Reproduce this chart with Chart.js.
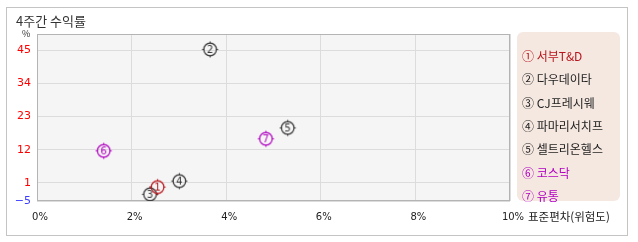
<!DOCTYPE html>
<html>
<head>
<meta charset="utf-8">
<script src="https://cdn.jsdelivr.net/npm/chart.js@4"></script>
<style>
  body { margin: 0; background: #fff; font-family: "Noto Sans CJK KR", sans-serif; }
  #wrap { position: relative; width: 638px; height: 242px; }
  #frame { position: absolute; left: 6px; top: 7px; width: 620px; height: 227px; border: 1px solid #c4c4c4; }
  #title { position: absolute; left: 16px; top: 11px; font-size: 13px; color: #333; }
  #unit { position: absolute; left: 22px; top: 27px; font-size: 9px; color: #333; }
  #chart { position: absolute; left: 0; top: 0; }
  #legend { position: absolute; left: 517px; top: 32px; width: 103px; height: 169px; background: #f5e8e1; border-radius: 6px; }
  #legend div { position: absolute; left: 5px; font-size: 12px; line-height: 14px; white-space: nowrap; }
</style>
</head>
<body>
<div id="wrap">
  <div id="frame"></div>
  <canvas id="chart" width="638" height="242"></canvas>
  <div id="title">4주간 수익률</div>
  <div id="unit">%</div>
  <div id="legend"></div>
</div>
<script>
// Data
const names = ['서부T&D', '다우데이타', 'CJ프레시웨', '파마리서치프', '셀트리온헬스', '코스닥', '유통'];
const marks = ['①', '②', '③', '④', '⑤', '⑥', '⑦'];
const riskValues = [2.55, 3.66, 2.39, 3.01, 5.30, 1.41, 4.84];
const returnValues = [-0.4, 45.2, -2.8, 1.6, 19.2, 11.6, 15.6];
const colors = ['#b8141c', '#333333', '#333333', '#333333', '#333333', '#b000c0', '#b000c0'];
const yTicks = [45, 34, 23, 12, 1, -5];
const xTicks = [0, 2, 4, 6, 8, 10];

// Build legend
const legend = document.getElementById('legend');
names.forEach((name, i) => {
  const d = document.createElement('div');
  d.textContent = marks[i] + ' ' + name;
  d.style.top = (17 + i * 23.3) + 'px';
  d.style.color = colors[i] === '#333333' ? '#222' : colors[i];
  legend.appendChild(d);
});

// Circled number marker
const makeMarker = (num, color) => {
  const c = document.createElement('canvas');
  c.width = 21;
  c.height = 21;
  const g = c.getContext('2d');
  g.strokeStyle = color;
  g.fillStyle = color;
  g.lineWidth = 1.2;
  g.beginPath();
  g.arc(10.5, 10.5, 6.3, 0, Math.PI * 2);
  g.stroke();
  g.lineWidth = 1;
  g.beginPath();
  g.moveTo(10.5, 2.5); g.lineTo(10.5, 4.5);
  g.moveTo(10.5, 16.5); g.lineTo(10.5, 18.5);
  g.moveTo(2.5, 10.5); g.lineTo(4.5, 10.5);
  g.moveTo(16.5, 10.5); g.lineTo(18.5, 10.5);
  g.stroke();
  g.font = '10px "DejaVu Sans", sans-serif';
  g.textAlign = 'center';
  g.textBaseline = 'middle';
  g.fillText(String(num), 10.5, 11);
  return c;
};

const datasets = names.map((name, i) => ({
  label: name,
  data: [{ x: riskValues[i], y: returnValues[i] }],
  pointStyle: makeMarker(i + 1, colors[i]),
  pointRadius: 7
}));

// Plot background, border and axis title
const plotBox = {
  id: 'plotBox',
  beforeDraw(chart) {
    const { ctx, chartArea: a } = chart;
    ctx.save();
    ctx.fillStyle = '#f5f5f5';
    ctx.fillRect(a.left, a.top, a.right - a.left, a.bottom - a.top);
    ctx.restore();
  },
  beforeDatasetsDraw(chart) {
    const { ctx, chartArea: a } = chart;
    ctx.save();
    ctx.strokeStyle = '#b4b4b4';
    ctx.lineWidth = 1;
    ctx.strokeRect(a.left + 0.5, a.top + 0.5, a.right - a.left - 1, a.bottom - a.top - 1);
    ctx.fillStyle = '#222';
    ctx.font = '11.5px "Noto Sans CJK KR", sans-serif';
    ctx.textBaseline = 'middle';
    ctx.fillText('표준편차(위험도)', 528, 217);
    ctx.restore();
  }
};

new Chart(document.getElementById('chart'), {
  type: 'scatter',
  data: { datasets },
  options: {
    responsive: false,
    animation: false,
    events: [],
    layout: { padding: { left: 0, top: 34, right: 128, bottom: 0 } },
    scales: {
      x: {
        min: 0,
        max: 10,
        afterBuildTicks: s => { s.ticks = xTicks.map(v => ({ value: v })); },
        afterFit: s => { s.height = 41; },
        border: { display: false },
        grid: { color: '#dcdcdc', drawTicks: false },
        ticks: {
          padding: 10,
          labelOffset: 3,
          color: '#222',
          font: { family: 'DejaVu Sans', size: 10 },
          callback: v => v + '%'
        }
      },
      y: {
        min: -5,
        max: 50.3,
        afterBuildTicks: s => { s.ticks = yTicks.map(v => ({ value: v })); },
        afterFit: s => { s.width = 37; },
        border: { display: false },
        grid: { color: '#dcdcdc', drawTicks: false },
        ticks: {
          padding: 6,
          font: { family: 'DejaVu Sans', size: 11 },
          color: c => (c.tick && c.tick.value < 0 ? '#3c3cff' : '#ff0000'),
          callback: v => String(v).replace('-', '−')
        }
      }
    },
    plugins: {
      legend: { display: false },
      tooltip: { enabled: false }
    }
  },
  plugins: [plotBox]
});
</script>
</body>
</html>
